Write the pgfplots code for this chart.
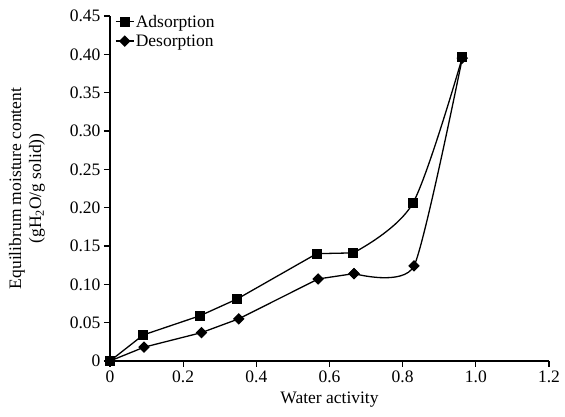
\documentclass[border=0pt]{standalone}
\usepackage{pgfplots}
\pgfplotsset{compat=1.18}
\usepackage{fontspec}
\setmainfont{Liberation Serif}
\begin{document}
\begin{tikzpicture}
\useasboundingbox (-110pt,-56pt) rectangle (455pt,361pt);
\begin{axis}[
  at={(0pt,0pt)}, anchor=south west,
  scale only axis, width=439pt, height=345pt,
  xmin=0, xmax=1.2, ymin=0, ymax=0.45,
  clip=false,
  axis x line*=bottom, axis y line*=left,
  axis line style={line width=1.2pt, -},
  xtick={0,0.2,0.4,0.6,0.8,1.0,1.2},
  xticklabels={0,0.2,0.4,0.6,0.8,1.0,1.2},
  ytick={0,0.05,0.10,0.15,0.20,0.25,0.30,0.35,0.40,0.45},
  yticklabels={0,0.05,0.10,0.15,0.20,0.25,0.30,0.35,0.40,0.45},
  tick align=outside, major tick length=6pt,
  tick style={line width=1.2pt, black},
  /pgf/number format/assume math mode=true,
  font=\fontsize{17.5}{20}\selectfont,
  xlabel={Water activity},
  xlabel style={at={(axis description cs:0.5,-0.113)}, anchor=center},
  ylabel={Equilibrum moisture content\\(gH\textsubscript{2}O/g solid))},
  ylabel style={at={(axis description cs:-0.189,0.5)}, anchor=center, align=center, rotate=0, font=\fontsize{17.5}{20}\selectfont},
  legend style={at={(axis description cs:0.011,1.008)}, anchor=north west, draw=none, fill=none, inner sep=0pt, row sep=3pt, nodes={inner sep=1.5pt}, font=\fontsize{17.5}{20}\selectfont},
  legend cell align=left,
  legend image code/.code={\draw[mark repeat=2,mark phase=2,#1] plot coordinates {(0pt,0pt)(9pt,0pt)(18pt,0pt)};},
]
% Adsorption
\addplot[black, line width=1.3pt, sharp plot, mark=square*, mark size=4.4pt, mark options={solid}] coordinates {
(0,0) (0.091,0.034) (0.246,0.059) (0.348,0.081) (0.565,0.140) (0.665,0.141)
};
\addlegendentry{Adsorption}
\addplot[black, line width=1.3pt, smooth, tension=0.5, mark=square*, mark size=4.4pt, mark options={solid}, forget plot] coordinates {
(0.665,0.141) (0.828,0.206) (0.963,0.396)
};
% Desorption
\addplot[black, line width=1.3pt, sharp plot, mark=square*, mark size=3.4pt, mark options={solid, rotate=45}] coordinates {
(0,0) (0.093,0.018) (0.250,0.037) (0.352,0.055) (0.569,0.107) (0.667,0.114)
};
\addlegendentry{Desorption}
\addplot[black, line width=1.3pt, smooth, tension=0.35, mark=square*, mark size=3.4pt, mark options={solid, rotate=45}, forget plot] coordinates {
(0.667,0.114) (0.831,0.124) (0.963,0.395)
};
\end{axis}
\end{tikzpicture}
\end{document}
